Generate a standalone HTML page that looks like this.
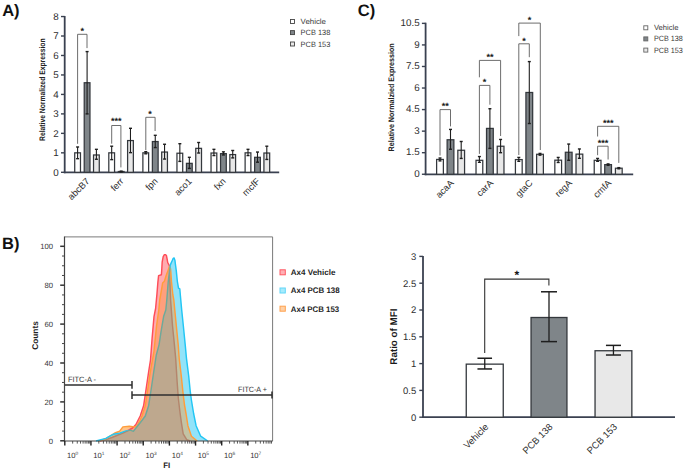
<!DOCTYPE html>
<html><head><meta charset="utf-8"><style>
html,body{margin:0;padding:0;background:#fff;}
body{width:685px;height:471px;overflow:hidden;}
svg{display:block;font-family:"Liberation Sans", sans-serif;text-rendering:geometricPrecision;}
</style></head><body>
<svg width="685" height="471" viewBox="0 0 685 471">
<rect width="685" height="471" fill="#fff"/>
<text x="2.20" y="16.00" font-size="16.5" font-weight="bold" text-anchor="start" fill="#111">A)</text>
<line x1="64.70" y1="16.00" x2="64.70" y2="173.20" stroke="#3a4150" stroke-width="1.8"/>
<line x1="63.80" y1="172.40" x2="279.20" y2="172.40" stroke="#3a4150" stroke-width="1.8"/>
<line x1="61.00" y1="172.30" x2="64.70" y2="172.30" stroke="#3a4150" stroke-width="1.4"/>
<text x="58.60" y="175.50" font-size="9.8" text-anchor="end" fill="#2e2e2e">0</text>
<line x1="61.00" y1="152.83" x2="64.70" y2="152.83" stroke="#3a4150" stroke-width="1.4"/>
<text x="58.60" y="156.03" font-size="9.8" text-anchor="end" fill="#2e2e2e">1</text>
<line x1="61.00" y1="133.36" x2="64.70" y2="133.36" stroke="#3a4150" stroke-width="1.4"/>
<text x="58.60" y="136.56" font-size="9.8" text-anchor="end" fill="#2e2e2e">2</text>
<line x1="61.00" y1="113.89" x2="64.70" y2="113.89" stroke="#3a4150" stroke-width="1.4"/>
<text x="58.60" y="117.09" font-size="9.8" text-anchor="end" fill="#2e2e2e">3</text>
<line x1="61.00" y1="94.42" x2="64.70" y2="94.42" stroke="#3a4150" stroke-width="1.4"/>
<text x="58.60" y="97.62" font-size="9.8" text-anchor="end" fill="#2e2e2e">4</text>
<line x1="61.00" y1="74.95" x2="64.70" y2="74.95" stroke="#3a4150" stroke-width="1.4"/>
<text x="58.60" y="78.15" font-size="9.8" text-anchor="end" fill="#2e2e2e">5</text>
<line x1="61.00" y1="55.48" x2="64.70" y2="55.48" stroke="#3a4150" stroke-width="1.4"/>
<text x="58.60" y="58.68" font-size="9.8" text-anchor="end" fill="#2e2e2e">6</text>
<line x1="61.00" y1="36.01" x2="64.70" y2="36.01" stroke="#3a4150" stroke-width="1.4"/>
<text x="58.60" y="39.21" font-size="9.8" text-anchor="end" fill="#2e2e2e">7</text>
<line x1="61.00" y1="16.54" x2="64.70" y2="16.54" stroke="#3a4150" stroke-width="1.4"/>
<text x="58.60" y="19.74" font-size="9.8" text-anchor="end" fill="#2e2e2e">8</text>
<text x="45.40" y="89.70" font-size="8.0" font-weight="bold" text-anchor="middle" fill="#222" transform="rotate(-90 45.40 89.70)" textLength="102.5" lengthAdjust="spacingAndGlyphs">Relative Normalized Expression</text>
<rect x="74.72" y="152.83" width="5.75" height="19.47" fill="#ffffff" stroke="#34383d" stroke-width="1.25"/>
<rect x="84.22" y="82.74" width="5.75" height="89.56" fill="#7f8589" stroke="#34383d" stroke-width="1.25"/>
<rect x="93.52" y="154.97" width="5.75" height="17.33" fill="#e8e8e8" stroke="#34383d" stroke-width="1.25"/>
<line x1="77.60" y1="158.67" x2="77.60" y2="146.99" stroke="#1e1e1e" stroke-width="1.1"/><line x1="76.10" y1="146.99" x2="79.10" y2="146.99" stroke="#1e1e1e" stroke-width="1.4"/><line x1="76.10" y1="158.67" x2="79.10" y2="158.67" stroke="#1e1e1e" stroke-width="1.4"/>
<line x1="87.10" y1="113.89" x2="87.10" y2="51.59" stroke="#1e1e1e" stroke-width="1.1"/><line x1="85.60" y1="51.59" x2="88.60" y2="51.59" stroke="#1e1e1e" stroke-width="1.4"/><line x1="85.60" y1="113.89" x2="88.60" y2="113.89" stroke="#1e1e1e" stroke-width="1.4"/>
<line x1="96.40" y1="159.26" x2="96.40" y2="149.33" stroke="#1e1e1e" stroke-width="1.1"/><line x1="94.90" y1="149.33" x2="97.90" y2="149.33" stroke="#1e1e1e" stroke-width="1.4"/><line x1="94.90" y1="159.26" x2="97.90" y2="159.26" stroke="#1e1e1e" stroke-width="1.4"/>
<text x="90.20" y="181.90" font-size="9.3" text-anchor="end" fill="#2e2e2e" transform="rotate(-45 90.20 181.90)">abcB7</text>
<rect x="108.80" y="152.83" width="5.75" height="19.47" fill="#ffffff" stroke="#34383d" stroke-width="1.25"/>
<rect x="118.30" y="171.52" width="5.75" height="0.78" fill="#7f8589" stroke="#34383d" stroke-width="1.25"/>
<rect x="127.60" y="140.56" width="5.75" height="31.74" fill="#e8e8e8" stroke="#34383d" stroke-width="1.25"/>
<line x1="111.68" y1="159.64" x2="111.68" y2="146.21" stroke="#1e1e1e" stroke-width="1.1"/><line x1="110.18" y1="146.21" x2="113.18" y2="146.21" stroke="#1e1e1e" stroke-width="1.4"/><line x1="110.18" y1="159.64" x2="113.18" y2="159.64" stroke="#1e1e1e" stroke-width="1.4"/>
<line x1="121.18" y1="171.91" x2="121.18" y2="171.13" stroke="#1e1e1e" stroke-width="1.1"/><line x1="119.68" y1="171.13" x2="122.68" y2="171.13" stroke="#1e1e1e" stroke-width="1.4"/><line x1="119.68" y1="171.91" x2="122.68" y2="171.91" stroke="#1e1e1e" stroke-width="1.4"/>
<line x1="130.48" y1="152.64" x2="130.48" y2="128.30" stroke="#1e1e1e" stroke-width="1.1"/><line x1="128.98" y1="128.30" x2="131.98" y2="128.30" stroke="#1e1e1e" stroke-width="1.4"/><line x1="128.98" y1="152.64" x2="131.98" y2="152.64" stroke="#1e1e1e" stroke-width="1.4"/>
<text x="124.28" y="181.90" font-size="9.3" text-anchor="end" fill="#2e2e2e" transform="rotate(-45 124.28 181.90)">ferr</text>
<rect x="142.88" y="152.83" width="5.75" height="19.47" fill="#ffffff" stroke="#34383d" stroke-width="1.25"/>
<rect x="152.38" y="141.54" width="5.75" height="30.76" fill="#7f8589" stroke="#34383d" stroke-width="1.25"/>
<rect x="161.69" y="152.05" width="5.75" height="20.25" fill="#e8e8e8" stroke="#34383d" stroke-width="1.25"/>
<line x1="145.76" y1="153.80" x2="145.76" y2="151.66" stroke="#1e1e1e" stroke-width="1.1"/><line x1="144.26" y1="151.66" x2="147.26" y2="151.66" stroke="#1e1e1e" stroke-width="1.4"/><line x1="144.26" y1="153.80" x2="147.26" y2="153.80" stroke="#1e1e1e" stroke-width="1.4"/>
<line x1="155.26" y1="147.57" x2="155.26" y2="135.31" stroke="#1e1e1e" stroke-width="1.1"/><line x1="153.76" y1="135.31" x2="156.76" y2="135.31" stroke="#1e1e1e" stroke-width="1.4"/><line x1="153.76" y1="147.57" x2="156.76" y2="147.57" stroke="#1e1e1e" stroke-width="1.4"/>
<line x1="164.56" y1="159.06" x2="164.56" y2="144.26" stroke="#1e1e1e" stroke-width="1.1"/><line x1="163.06" y1="144.26" x2="166.06" y2="144.26" stroke="#1e1e1e" stroke-width="1.4"/><line x1="163.06" y1="159.06" x2="166.06" y2="159.06" stroke="#1e1e1e" stroke-width="1.4"/>
<text x="158.36" y="181.90" font-size="9.3" text-anchor="end" fill="#2e2e2e" transform="rotate(-45 158.36 181.90)">fpn</text>
<rect x="176.96" y="153.22" width="5.75" height="19.08" fill="#ffffff" stroke="#34383d" stroke-width="1.25"/>
<rect x="186.46" y="163.34" width="5.75" height="8.96" fill="#7f8589" stroke="#34383d" stroke-width="1.25"/>
<rect x="195.76" y="148.35" width="5.75" height="23.95" fill="#e8e8e8" stroke="#34383d" stroke-width="1.25"/>
<line x1="179.84" y1="161.40" x2="179.84" y2="143.68" stroke="#1e1e1e" stroke-width="1.1"/><line x1="178.34" y1="143.68" x2="181.34" y2="143.68" stroke="#1e1e1e" stroke-width="1.4"/><line x1="178.34" y1="161.40" x2="181.34" y2="161.40" stroke="#1e1e1e" stroke-width="1.4"/>
<line x1="189.34" y1="168.41" x2="189.34" y2="157.31" stroke="#1e1e1e" stroke-width="1.1"/><line x1="187.84" y1="157.31" x2="190.84" y2="157.31" stroke="#1e1e1e" stroke-width="1.4"/><line x1="187.84" y1="168.41" x2="190.84" y2="168.41" stroke="#1e1e1e" stroke-width="1.4"/>
<line x1="198.64" y1="153.02" x2="198.64" y2="142.51" stroke="#1e1e1e" stroke-width="1.1"/><line x1="197.14" y1="142.51" x2="200.14" y2="142.51" stroke="#1e1e1e" stroke-width="1.4"/><line x1="197.14" y1="153.02" x2="200.14" y2="153.02" stroke="#1e1e1e" stroke-width="1.4"/>
<text x="192.44" y="181.90" font-size="9.3" text-anchor="end" fill="#2e2e2e" transform="rotate(-45 192.44 181.90)">aco1</text>
<rect x="211.04" y="153.02" width="5.75" height="19.28" fill="#ffffff" stroke="#34383d" stroke-width="1.25"/>
<rect x="220.54" y="153.61" width="5.75" height="18.69" fill="#7f8589" stroke="#34383d" stroke-width="1.25"/>
<rect x="229.84" y="154.58" width="5.75" height="17.72" fill="#e8e8e8" stroke="#34383d" stroke-width="1.25"/>
<line x1="213.92" y1="155.56" x2="213.92" y2="149.33" stroke="#1e1e1e" stroke-width="1.1"/><line x1="212.42" y1="149.33" x2="215.42" y2="149.33" stroke="#1e1e1e" stroke-width="1.4"/><line x1="212.42" y1="155.56" x2="215.42" y2="155.56" stroke="#1e1e1e" stroke-width="1.4"/>
<line x1="223.42" y1="154.97" x2="223.42" y2="151.86" stroke="#1e1e1e" stroke-width="1.1"/><line x1="221.92" y1="151.86" x2="224.92" y2="151.86" stroke="#1e1e1e" stroke-width="1.4"/><line x1="221.92" y1="154.97" x2="224.92" y2="154.97" stroke="#1e1e1e" stroke-width="1.4"/>
<line x1="232.72" y1="157.89" x2="232.72" y2="150.49" stroke="#1e1e1e" stroke-width="1.1"/><line x1="231.22" y1="150.49" x2="234.22" y2="150.49" stroke="#1e1e1e" stroke-width="1.4"/><line x1="231.22" y1="157.89" x2="234.22" y2="157.89" stroke="#1e1e1e" stroke-width="1.4"/>
<text x="226.52" y="181.90" font-size="9.3" text-anchor="end" fill="#2e2e2e" transform="rotate(-45 226.52 181.90)">fxn</text>
<rect x="245.12" y="152.83" width="5.75" height="19.47" fill="#ffffff" stroke="#34383d" stroke-width="1.25"/>
<rect x="254.62" y="157.31" width="5.75" height="14.99" fill="#7f8589" stroke="#34383d" stroke-width="1.25"/>
<rect x="263.92" y="153.02" width="5.75" height="19.28" fill="#e8e8e8" stroke="#34383d" stroke-width="1.25"/>
<line x1="248.00" y1="155.56" x2="248.00" y2="149.33" stroke="#1e1e1e" stroke-width="1.1"/><line x1="246.50" y1="149.33" x2="249.50" y2="149.33" stroke="#1e1e1e" stroke-width="1.4"/><line x1="246.50" y1="155.56" x2="249.50" y2="155.56" stroke="#1e1e1e" stroke-width="1.4"/>
<line x1="257.50" y1="162.18" x2="257.50" y2="152.05" stroke="#1e1e1e" stroke-width="1.1"/><line x1="256.00" y1="152.05" x2="259.00" y2="152.05" stroke="#1e1e1e" stroke-width="1.4"/><line x1="256.00" y1="162.18" x2="259.00" y2="162.18" stroke="#1e1e1e" stroke-width="1.4"/>
<line x1="266.80" y1="159.45" x2="266.80" y2="146.21" stroke="#1e1e1e" stroke-width="1.1"/><line x1="265.30" y1="146.21" x2="268.30" y2="146.21" stroke="#1e1e1e" stroke-width="1.4"/><line x1="265.30" y1="159.45" x2="268.30" y2="159.45" stroke="#1e1e1e" stroke-width="1.4"/>
<text x="260.60" y="181.90" font-size="9.3" text-anchor="end" fill="#2e2e2e" transform="rotate(-45 260.60 181.90)">mcfF</text>
<polyline points="77.60,143.80 77.60,34.30 87.00,34.30 87.00,48.10" fill="none" stroke="#5c5c5c" stroke-width="0.9"/>
<text x="82.20" y="34.30" font-size="9.1" font-weight="bold" text-anchor="middle" fill="#1a1a1a">*</text>
<polyline points="111.70,143.70 111.70,125.50 120.90,125.50 120.90,167.40" fill="none" stroke="#5c5c5c" stroke-width="0.9"/>
<text x="116.30" y="124.41" font-size="9.1" font-weight="bold" text-anchor="middle" fill="#1a1a1a">***</text>
<polyline points="145.80,150.00 145.80,117.30 155.10,117.30 155.10,131.00" fill="none" stroke="#5c5c5c" stroke-width="0.9"/>
<text x="150.10" y="116.91" font-size="9.1" font-weight="bold" text-anchor="middle" fill="#1a1a1a">*</text>
<rect x="290.50" y="19.50" width="4.00" height="4.00" fill="#ffffff" stroke="#444" stroke-width="0.9"/><text x="300.60" y="24.00" font-size="7.6" text-anchor="start" fill="#383838" textLength="25.4" lengthAdjust="spacingAndGlyphs">Vehicle</text><rect x="290.50" y="30.60" width="4.00" height="4.00" fill="#7f8589" stroke="#444" stroke-width="0.9"/><text x="300.60" y="35.10" font-size="7.6" text-anchor="start" fill="#383838" textLength="29.8" lengthAdjust="spacingAndGlyphs">PCB 138</text><rect x="290.50" y="42.00" width="4.00" height="4.00" fill="#e8e8e8" stroke="#444" stroke-width="0.9"/><text x="300.60" y="46.50" font-size="7.6" text-anchor="start" fill="#383838" textLength="29.8" lengthAdjust="spacingAndGlyphs">PCB 153</text>
<text x="357.80" y="15.60" font-size="16.5" font-weight="bold" text-anchor="start" fill="#111">C)</text>
<line x1="425.60" y1="22.70" x2="425.60" y2="175.20" stroke="#3a4150" stroke-width="1.8"/>
<line x1="424.70" y1="174.40" x2="633.20" y2="174.40" stroke="#3a4150" stroke-width="1.8"/>
<line x1="421.90" y1="174.25" x2="425.60" y2="174.25" stroke="#3a4150" stroke-width="1.4"/>
<text x="419.60" y="176.95" font-size="9.8" text-anchor="end" fill="#2e2e2e">0</text>
<line x1="421.90" y1="152.69" x2="425.60" y2="152.69" stroke="#3a4150" stroke-width="1.4"/>
<text x="419.60" y="155.39" font-size="9.8" text-anchor="end" fill="#2e2e2e">1.5</text>
<line x1="421.90" y1="131.14" x2="425.60" y2="131.14" stroke="#3a4150" stroke-width="1.4"/>
<text x="419.60" y="133.84" font-size="9.8" text-anchor="end" fill="#2e2e2e">3</text>
<line x1="421.90" y1="109.59" x2="425.60" y2="109.59" stroke="#3a4150" stroke-width="1.4"/>
<text x="419.60" y="112.29" font-size="9.8" text-anchor="end" fill="#2e2e2e">4.5</text>
<line x1="421.90" y1="88.03" x2="425.60" y2="88.03" stroke="#3a4150" stroke-width="1.4"/>
<text x="419.60" y="90.73" font-size="9.8" text-anchor="end" fill="#2e2e2e">6</text>
<line x1="421.90" y1="66.48" x2="425.60" y2="66.48" stroke="#3a4150" stroke-width="1.4"/>
<text x="419.60" y="69.18" font-size="9.8" text-anchor="end" fill="#2e2e2e">7.5</text>
<line x1="421.90" y1="44.92" x2="425.60" y2="44.92" stroke="#3a4150" stroke-width="1.4"/>
<text x="419.60" y="47.62" font-size="9.8" text-anchor="end" fill="#2e2e2e">9</text>
<line x1="421.90" y1="23.37" x2="425.60" y2="23.37" stroke="#3a4150" stroke-width="1.4"/>
<text x="419.60" y="26.07" font-size="9.8" text-anchor="end" fill="#2e2e2e">10.5</text>
<text x="393.90" y="97.40" font-size="8.0" font-weight="bold" text-anchor="middle" fill="#222" transform="rotate(-90 393.90 97.40)" textLength="108" lengthAdjust="spacingAndGlyphs">Relative Normalzied Expression</text>
<rect x="436.62" y="159.45" width="6.75" height="14.80" fill="#ffffff" stroke="#34383d" stroke-width="1.25"/>
<rect x="447.12" y="139.76" width="6.75" height="34.49" fill="#7f8589" stroke="#34383d" stroke-width="1.25"/>
<rect x="457.82" y="150.25" width="6.75" height="24.00" fill="#e8e8e8" stroke="#34383d" stroke-width="1.25"/>
<line x1="440.00" y1="160.89" x2="440.00" y2="158.01" stroke="#1e1e1e" stroke-width="1.1"/><line x1="438.50" y1="158.01" x2="441.50" y2="158.01" stroke="#1e1e1e" stroke-width="1.4"/><line x1="438.50" y1="160.89" x2="441.50" y2="160.89" stroke="#1e1e1e" stroke-width="1.4"/>
<line x1="450.50" y1="149.25" x2="450.50" y2="129.42" stroke="#1e1e1e" stroke-width="1.1"/><line x1="449.00" y1="129.42" x2="452.00" y2="129.42" stroke="#1e1e1e" stroke-width="1.4"/><line x1="449.00" y1="149.25" x2="452.00" y2="149.25" stroke="#1e1e1e" stroke-width="1.4"/>
<line x1="461.20" y1="158.44" x2="461.20" y2="141.49" stroke="#1e1e1e" stroke-width="1.1"/><line x1="459.70" y1="141.49" x2="462.70" y2="141.49" stroke="#1e1e1e" stroke-width="1.4"/><line x1="459.70" y1="158.44" x2="462.70" y2="158.44" stroke="#1e1e1e" stroke-width="1.4"/>
<text x="454.40" y="183.60" font-size="9.3" text-anchor="end" fill="#2e2e2e" transform="rotate(-45 454.40 183.60)">acaA</text>
<rect x="476.02" y="160.31" width="6.75" height="13.94" fill="#ffffff" stroke="#34383d" stroke-width="1.25"/>
<rect x="486.52" y="128.41" width="6.75" height="45.84" fill="#7f8589" stroke="#34383d" stroke-width="1.25"/>
<rect x="497.22" y="146.23" width="6.75" height="28.02" fill="#e8e8e8" stroke="#34383d" stroke-width="1.25"/>
<line x1="479.40" y1="162.32" x2="479.40" y2="156.57" stroke="#1e1e1e" stroke-width="1.1"/><line x1="477.90" y1="156.57" x2="480.90" y2="156.57" stroke="#1e1e1e" stroke-width="1.4"/><line x1="477.90" y1="162.32" x2="480.90" y2="162.32" stroke="#1e1e1e" stroke-width="1.4"/>
<line x1="489.90" y1="148.38" x2="489.90" y2="108.72" stroke="#1e1e1e" stroke-width="1.1"/><line x1="488.40" y1="108.72" x2="491.40" y2="108.72" stroke="#1e1e1e" stroke-width="1.4"/><line x1="488.40" y1="148.38" x2="491.40" y2="148.38" stroke="#1e1e1e" stroke-width="1.4"/>
<line x1="500.60" y1="152.69" x2="500.60" y2="139.47" stroke="#1e1e1e" stroke-width="1.1"/><line x1="499.10" y1="139.47" x2="502.10" y2="139.47" stroke="#1e1e1e" stroke-width="1.4"/><line x1="499.10" y1="152.69" x2="502.10" y2="152.69" stroke="#1e1e1e" stroke-width="1.4"/>
<text x="493.80" y="183.60" font-size="9.3" text-anchor="end" fill="#2e2e2e" transform="rotate(-45 493.80 183.60)">carA</text>
<rect x="515.42" y="159.59" width="6.75" height="14.66" fill="#ffffff" stroke="#34383d" stroke-width="1.25"/>
<rect x="525.92" y="92.48" width="6.75" height="81.77" fill="#7f8589" stroke="#34383d" stroke-width="1.25"/>
<rect x="536.62" y="154.28" width="6.75" height="19.97" fill="#e8e8e8" stroke="#34383d" stroke-width="1.25"/>
<line x1="518.80" y1="161.32" x2="518.80" y2="157.44" stroke="#1e1e1e" stroke-width="1.1"/><line x1="517.30" y1="157.44" x2="520.30" y2="157.44" stroke="#1e1e1e" stroke-width="1.4"/><line x1="517.30" y1="161.32" x2="520.30" y2="161.32" stroke="#1e1e1e" stroke-width="1.4"/>
<line x1="529.30" y1="123.52" x2="529.30" y2="61.59" stroke="#1e1e1e" stroke-width="1.1"/><line x1="527.80" y1="61.59" x2="530.80" y2="61.59" stroke="#1e1e1e" stroke-width="1.4"/><line x1="527.80" y1="123.52" x2="530.80" y2="123.52" stroke="#1e1e1e" stroke-width="1.4"/>
<line x1="540.00" y1="155.14" x2="540.00" y2="153.41" stroke="#1e1e1e" stroke-width="1.1"/><line x1="538.50" y1="153.41" x2="541.50" y2="153.41" stroke="#1e1e1e" stroke-width="1.4"/><line x1="538.50" y1="155.14" x2="541.50" y2="155.14" stroke="#1e1e1e" stroke-width="1.4"/>
<text x="533.20" y="183.60" font-size="9.3" text-anchor="end" fill="#2e2e2e" transform="rotate(-45 533.20 183.60)">gtaC</text>
<rect x="554.83" y="160.17" width="6.75" height="14.08" fill="#ffffff" stroke="#34383d" stroke-width="1.25"/>
<rect x="565.33" y="152.26" width="6.75" height="21.99" fill="#7f8589" stroke="#34383d" stroke-width="1.25"/>
<rect x="576.03" y="154.13" width="6.75" height="20.12" fill="#e8e8e8" stroke="#34383d" stroke-width="1.25"/>
<line x1="558.20" y1="162.47" x2="558.20" y2="157.44" stroke="#1e1e1e" stroke-width="1.1"/><line x1="556.70" y1="157.44" x2="559.70" y2="157.44" stroke="#1e1e1e" stroke-width="1.4"/><line x1="556.70" y1="162.47" x2="559.70" y2="162.47" stroke="#1e1e1e" stroke-width="1.4"/>
<line x1="568.70" y1="160.31" x2="568.70" y2="144.07" stroke="#1e1e1e" stroke-width="1.1"/><line x1="567.20" y1="144.07" x2="570.20" y2="144.07" stroke="#1e1e1e" stroke-width="1.4"/><line x1="567.20" y1="160.31" x2="570.20" y2="160.31" stroke="#1e1e1e" stroke-width="1.4"/>
<line x1="579.40" y1="158.30" x2="579.40" y2="148.96" stroke="#1e1e1e" stroke-width="1.1"/><line x1="577.90" y1="148.96" x2="580.90" y2="148.96" stroke="#1e1e1e" stroke-width="1.4"/><line x1="577.90" y1="158.30" x2="580.90" y2="158.30" stroke="#1e1e1e" stroke-width="1.4"/>
<text x="572.60" y="183.60" font-size="9.3" text-anchor="end" fill="#2e2e2e" transform="rotate(-45 572.60 183.60)">regA</text>
<rect x="594.23" y="160.31" width="6.75" height="13.94" fill="#ffffff" stroke="#34383d" stroke-width="1.25"/>
<rect x="604.73" y="164.62" width="6.75" height="9.63" fill="#7f8589" stroke="#34383d" stroke-width="1.25"/>
<rect x="615.43" y="168.21" width="6.75" height="6.04" fill="#e8e8e8" stroke="#34383d" stroke-width="1.25"/>
<line x1="597.60" y1="161.32" x2="597.60" y2="158.44" stroke="#1e1e1e" stroke-width="1.1"/><line x1="596.10" y1="158.44" x2="599.10" y2="158.44" stroke="#1e1e1e" stroke-width="1.4"/><line x1="596.10" y1="161.32" x2="599.10" y2="161.32" stroke="#1e1e1e" stroke-width="1.4"/>
<line x1="608.10" y1="165.34" x2="608.10" y2="163.90" stroke="#1e1e1e" stroke-width="1.1"/><line x1="606.60" y1="163.90" x2="609.60" y2="163.90" stroke="#1e1e1e" stroke-width="1.4"/><line x1="606.60" y1="165.34" x2="609.60" y2="165.34" stroke="#1e1e1e" stroke-width="1.4"/>
<line x1="618.80" y1="168.79" x2="618.80" y2="167.64" stroke="#1e1e1e" stroke-width="1.1"/><line x1="617.30" y1="167.64" x2="620.30" y2="167.64" stroke="#1e1e1e" stroke-width="1.4"/><line x1="617.30" y1="168.79" x2="620.30" y2="168.79" stroke="#1e1e1e" stroke-width="1.4"/>
<text x="612.00" y="183.60" font-size="9.3" text-anchor="end" fill="#2e2e2e" transform="rotate(-45 612.00 183.60)">cmfA</text>
<polyline points="440.00,155.50 440.00,109.60 450.50,109.60 450.50,126.40" fill="none" stroke="#5c5c5c" stroke-width="0.9"/>
<text x="445.30" y="109.11" font-size="9.1" font-weight="bold" text-anchor="middle" fill="#1a1a1a">**</text>
<polyline points="479.40,153.90 479.40,85.40 489.90,85.40 489.90,104.70" fill="none" stroke="#5c5c5c" stroke-width="0.9"/>
<text x="484.60" y="84.91" font-size="9.1" font-weight="bold" text-anchor="middle" fill="#1a1a1a">*</text>
<polyline points="479.40,77.30 479.40,60.40 500.60,60.40 500.60,136.00" fill="none" stroke="#5c5c5c" stroke-width="0.9"/>
<text x="490.00" y="60.01" font-size="9.1" font-weight="bold" text-anchor="middle" fill="#1a1a1a">**</text>
<polyline points="518.80,155.00 518.80,43.80 529.30,43.80 529.30,57.20" fill="none" stroke="#5c5c5c" stroke-width="0.9"/>
<text x="524.00" y="43.70" font-size="9.1" font-weight="bold" text-anchor="middle" fill="#1a1a1a">*</text>
<polyline points="518.80,36.10 518.80,23.10 540.30,23.10 540.30,150.00" fill="none" stroke="#5c5c5c" stroke-width="0.9"/>
<text x="529.40" y="23.10" font-size="9.1" font-weight="bold" text-anchor="middle" fill="#1a1a1a">*</text>
<polyline points="597.60,155.20 597.60,146.20 608.10,146.20 608.10,159.50" fill="none" stroke="#5c5c5c" stroke-width="0.9"/>
<text x="603.00" y="146.00" font-size="9.1" font-weight="bold" text-anchor="middle" fill="#1a1a1a">***</text>
<polyline points="597.60,136.50 597.60,126.30 618.80,126.30 618.80,162.90" fill="none" stroke="#5c5c5c" stroke-width="0.9"/>
<text x="608.20" y="126.20" font-size="9.1" font-weight="bold" text-anchor="middle" fill="#1a1a1a">***</text>
<rect x="643.80" y="25.80" width="4.00" height="4.00" fill="#ffffff" stroke="#666" stroke-width="0.9"/><text x="653.90" y="30.30" font-size="7.6" text-anchor="start" fill="#383838" textLength="24.6" lengthAdjust="spacingAndGlyphs">Vehicle</text><rect x="643.80" y="36.90" width="4.00" height="4.00" fill="#7f8589" stroke="#666" stroke-width="0.9"/><text x="653.90" y="41.40" font-size="7.6" text-anchor="start" fill="#383838" textLength="28.9" lengthAdjust="spacingAndGlyphs">PCB 138</text><rect x="643.80" y="48.10" width="4.00" height="4.00" fill="#e8e8e8" stroke="#666" stroke-width="0.9"/><text x="653.90" y="52.60" font-size="7.6" text-anchor="start" fill="#383838" textLength="28.9" lengthAdjust="spacingAndGlyphs">PCB 153</text>
<line x1="423.00" y1="256.00" x2="423.00" y2="418.00" stroke="#3a4150" stroke-width="1.8"/>
<line x1="422.20" y1="417.20" x2="675.00" y2="417.20" stroke="#3a4150" stroke-width="1.8"/>
<line x1="419.30" y1="417.20" x2="423.00" y2="417.20" stroke="#3a4150" stroke-width="1.4"/>
<text x="416.30" y="420.60" font-size="9.5" text-anchor="end" fill="#2e2e2e">0</text>
<line x1="419.30" y1="390.40" x2="423.00" y2="390.40" stroke="#3a4150" stroke-width="1.4"/>
<text x="416.30" y="393.80" font-size="9.5" text-anchor="end" fill="#2e2e2e">0.5</text>
<line x1="419.30" y1="363.60" x2="423.00" y2="363.60" stroke="#3a4150" stroke-width="1.4"/>
<text x="416.30" y="367.00" font-size="9.5" text-anchor="end" fill="#2e2e2e">1</text>
<line x1="419.30" y1="336.80" x2="423.00" y2="336.80" stroke="#3a4150" stroke-width="1.4"/>
<text x="416.30" y="340.20" font-size="9.5" text-anchor="end" fill="#2e2e2e">1.5</text>
<line x1="419.30" y1="310.00" x2="423.00" y2="310.00" stroke="#3a4150" stroke-width="1.4"/>
<text x="416.30" y="313.40" font-size="9.5" text-anchor="end" fill="#2e2e2e">2</text>
<line x1="419.30" y1="283.20" x2="423.00" y2="283.20" stroke="#3a4150" stroke-width="1.4"/>
<text x="416.30" y="286.60" font-size="9.5" text-anchor="end" fill="#2e2e2e">2.5</text>
<line x1="419.30" y1="256.40" x2="423.00" y2="256.40" stroke="#3a4150" stroke-width="1.4"/>
<text x="416.30" y="259.80" font-size="9.5" text-anchor="end" fill="#2e2e2e">3</text>
<text x="396.60" y="336.60" font-size="9.8" font-weight="bold" text-anchor="middle" fill="#1a1a1a" transform="rotate(-90 396.60 336.60)">Ratio of MFI</text>
<rect x="466.25" y="364.14" width="37.00" height="53.06" fill="#ffffff" stroke="#34383d" stroke-width="1.3"/>
<rect x="531.05" y="317.50" width="35.90" height="99.70" fill="#7f8589" stroke="#34383d" stroke-width="1.3"/>
<rect x="595.05" y="350.74" width="36.80" height="66.46" fill="#e8e8e8" stroke="#34383d" stroke-width="1.3"/>
<line x1="484.75" y1="368.96" x2="484.75" y2="358.24" stroke="#1e1e1e" stroke-width="1.3"/><line x1="477.45" y1="358.24" x2="492.05" y2="358.24" stroke="#1e1e1e" stroke-width="1.5"/><line x1="477.45" y1="368.96" x2="492.05" y2="368.96" stroke="#1e1e1e" stroke-width="1.5"/>
<text x="489.05" y="427.60" font-size="9.5" text-anchor="end" fill="#2e2e2e" transform="rotate(-45 489.05 427.60)">Vehicle</text>
<line x1="549.00" y1="341.62" x2="549.00" y2="291.78" stroke="#1e1e1e" stroke-width="1.3"/><line x1="541.00" y1="291.78" x2="557.00" y2="291.78" stroke="#1e1e1e" stroke-width="1.5"/><line x1="541.00" y1="341.62" x2="557.00" y2="341.62" stroke="#1e1e1e" stroke-width="1.5"/>
<text x="553.30" y="427.60" font-size="9.5" text-anchor="end" fill="#2e2e2e" transform="rotate(-45 553.30 427.60)">PCB 138</text>
<line x1="613.45" y1="355.02" x2="613.45" y2="345.38" stroke="#1e1e1e" stroke-width="1.3"/><line x1="605.95" y1="345.38" x2="620.95" y2="345.38" stroke="#1e1e1e" stroke-width="1.5"/><line x1="605.95" y1="355.02" x2="620.95" y2="355.02" stroke="#1e1e1e" stroke-width="1.5"/>
<text x="617.75" y="427.60" font-size="9.5" text-anchor="end" fill="#2e2e2e" transform="rotate(-45 617.75 427.60)">PCB 153</text>
<polyline points="484.70,353.10 484.70,279.10 548.90,279.10 548.90,285.50" fill="none" stroke="#333" stroke-width="1.1"/>
<text x="516.80" y="279.40" font-size="12" font-weight="bold" text-anchor="middle" fill="#1a1a1a">*</text>
<text x="2.00" y="248.80" font-size="16.5" font-weight="bold" text-anchor="start" fill="#111">B)</text>
<defs>
<clipPath id="cR"><path d="M100.0,441.0 L106.0,439.6 L112.0,437.5 L118.0,435.0 L124.0,432.5 L129.0,430.0 L132.5,428.0 L135.9,424.5 L140.2,416.0 L143.6,405.8 L146.1,389.0 L148.6,372.0 L150.5,360.0 L152.1,338.2 L154.0,316.6 L155.6,308.5 L156.9,294.5 L157.9,282.0 L158.6,275.6 L161.4,274.7 L161.8,268.7 L162.2,261.8 L163.2,256.6 L164.4,254.6 L165.6,254.6 L166.5,255.8 L167.2,259.5 L167.7,262.5 L168.7,264.4 L169.5,265.8 L169.9,282.0 L170.6,300.0 L172.5,325.5 L174.4,344.6 L175.7,358.6 L177.1,381.2 L178.3,398.0 L179.8,411.0 L181.5,423.4 L183.2,433.9 L186.7,439.7 L190.2,441.0 Z"/></clipPath>
<clipPath id="cO"><path d="M98.0,441.0 L100.0,440.6 L105.9,438.6 L111.2,435.4 L115.5,432.7 L119.7,431.1 L122.9,426.9 L129.3,426.3 L134.6,426.9 L136.8,426.2 L139.9,420.5 L141.9,416.0 L145.3,405.8 L147.8,389.0 L150.3,372.0 L152.7,358.6 L154.0,351.0 L156.6,325.5 L158.8,310.0 L159.7,300.0 L160.7,294.5 L162.0,286.9 L162.6,283.0 L163.9,281.8 L164.5,281.0 L166.0,276.0 L169.6,266.3 L170.6,269.0 L171.5,281.8 L172.8,294.5 L173.8,300.0 L176.3,325.5 L178.2,344.6 L179.2,358.6 L181.3,376.0 L182.9,391.8 L184.5,405.0 L186.1,414.0 L187.9,425.7 L191.4,436.2 L197.2,441.0 Z"/></clipPath>
<clipPath id="cC"><path d="M96.0,441.0 L98.0,440.5 L105.9,438.4 L111.2,435.4 L113.4,434.3 L119.7,433.2 L125.1,431.1 L130.4,430.1 L133.4,431.3 L140.2,422.8 L145.3,416.0 L148.6,405.8 L151.2,389.0 L153.7,372.0 L156.3,355.0 L159.1,344.6 L161.0,331.8 L163.6,316.6 L165.8,310.0 L166.8,300.0 L168.2,282.0 L170.2,265.2 L171.3,262.6 L172.4,260.2 L173.2,258.4 L174.1,257.9 L174.9,260.2 L175.6,265.6 L176.3,270.9 L177.3,281.0 L178.5,288.1 L179.8,288.8 L180.4,295.8 L181.7,310.0 L183.3,325.5 L185.2,344.6 L186.5,358.6 L188.7,376.0 L190.3,391.8 L191.4,400.0 L193.7,414.0 L196.1,425.7 L200.7,436.2 L207.7,441.0 Z"/></clipPath>
<mask id="mNotC" maskUnits="userSpaceOnUse" x="0" y="200" width="300" height="271"><rect x="0" y="200" width="300" height="271" fill="#fff"/><path d="M96.0,441.0 L98.0,440.5 L105.9,438.4 L111.2,435.4 L113.4,434.3 L119.7,433.2 L125.1,431.1 L130.4,430.1 L133.4,431.3 L140.2,422.8 L145.3,416.0 L148.6,405.8 L151.2,389.0 L153.7,372.0 L156.3,355.0 L159.1,344.6 L161.0,331.8 L163.6,316.6 L165.8,310.0 L166.8,300.0 L168.2,282.0 L170.2,265.2 L171.3,262.6 L172.4,260.2 L173.2,258.4 L174.1,257.9 L174.9,260.2 L175.6,265.6 L176.3,270.9 L177.3,281.0 L178.5,288.1 L179.8,288.8 L180.4,295.8 L181.7,310.0 L183.3,325.5 L185.2,344.6 L186.5,358.6 L188.7,376.0 L190.3,391.8 L191.4,400.0 L193.7,414.0 L196.1,425.7 L200.7,436.2 L207.7,441.0 Z" fill="#000"/></mask>
<mask id="mNotR" maskUnits="userSpaceOnUse" x="0" y="200" width="300" height="271"><rect x="0" y="200" width="300" height="271" fill="#fff"/><path d="M100.0,441.0 L106.0,439.6 L112.0,437.5 L118.0,435.0 L124.0,432.5 L129.0,430.0 L132.5,428.0 L135.9,424.5 L140.2,416.0 L143.6,405.8 L146.1,389.0 L148.6,372.0 L150.5,360.0 L152.1,338.2 L154.0,316.6 L155.6,308.5 L156.9,294.5 L157.9,282.0 L158.6,275.6 L161.4,274.7 L161.8,268.7 L162.2,261.8 L163.2,256.6 L164.4,254.6 L165.6,254.6 L166.5,255.8 L167.2,259.5 L167.7,262.5 L168.7,264.4 L169.5,265.8 L169.9,282.0 L170.6,300.0 L172.5,325.5 L174.4,344.6 L175.7,358.6 L177.1,381.2 L178.3,398.0 L179.8,411.0 L181.5,423.4 L183.2,433.9 L186.7,439.7 L190.2,441.0 Z" fill="#000"/></mask>
</defs>
<path d="M100.0,441.0 L106.0,439.6 L112.0,437.5 L118.0,435.0 L124.0,432.5 L129.0,430.0 L132.5,428.0 L135.9,424.5 L140.2,416.0 L143.6,405.8 L146.1,389.0 L148.6,372.0 L150.5,360.0 L152.1,338.2 L154.0,316.6 L155.6,308.5 L156.9,294.5 L157.9,282.0 L158.6,275.6 L161.4,274.7 L161.8,268.7 L162.2,261.8 L163.2,256.6 L164.4,254.6 L165.6,254.6 L166.5,255.8 L167.2,259.5 L167.7,262.5 L168.7,264.4 L169.5,265.8 L169.9,282.0 L170.6,300.0 L172.5,325.5 L174.4,344.6 L175.7,358.6 L177.1,381.2 L178.3,398.0 L179.8,411.0 L181.5,423.4 L183.2,433.9 L186.7,439.7 L190.2,441.0 Z" fill="#ffabb0"/>
<path d="M96.0,441.0 L98.0,440.5 L105.9,438.4 L111.2,435.4 L113.4,434.3 L119.7,433.2 L125.1,431.1 L130.4,430.1 L133.4,431.3 L140.2,422.8 L145.3,416.0 L148.6,405.8 L151.2,389.0 L153.7,372.0 L156.3,355.0 L159.1,344.6 L161.0,331.8 L163.6,316.6 L165.8,310.0 L166.8,300.0 L168.2,282.0 L170.2,265.2 L171.3,262.6 L172.4,260.2 L173.2,258.4 L174.1,257.9 L174.9,260.2 L175.6,265.6 L176.3,270.9 L177.3,281.0 L178.5,288.1 L179.8,288.8 L180.4,295.8 L181.7,310.0 L183.3,325.5 L185.2,344.6 L186.5,358.6 L188.7,376.0 L190.3,391.8 L191.4,400.0 L193.7,414.0 L196.1,425.7 L200.7,436.2 L207.7,441.0 Z" fill="#92e3f9"/>
<path d="M98.0,441.0 L100.0,440.6 L105.9,438.6 L111.2,435.4 L115.5,432.7 L119.7,431.1 L122.9,426.9 L129.3,426.3 L134.6,426.9 L136.8,426.2 L139.9,420.5 L141.9,416.0 L145.3,405.8 L147.8,389.0 L150.3,372.0 L152.7,358.6 L154.0,351.0 L156.6,325.5 L158.8,310.0 L159.7,300.0 L160.7,294.5 L162.0,286.9 L162.6,283.0 L163.9,281.8 L164.5,281.0 L166.0,276.0 L169.6,266.3 L170.6,269.0 L171.5,281.8 L172.8,294.5 L173.8,300.0 L176.3,325.5 L178.2,344.6 L179.2,358.6 L181.3,376.0 L182.9,391.8 L184.5,405.0 L186.1,414.0 L187.9,425.7 L191.4,436.2 L197.2,441.0 Z" fill="#ffc489"/>
<path d="M98.0,441.0 L100.0,440.6 L105.9,438.6 L111.2,435.4 L115.5,432.7 L119.7,431.1 L122.9,426.9 L129.3,426.3 L134.6,426.9 L136.8,426.2 L139.9,420.5 L141.9,416.0 L145.3,405.8 L147.8,389.0 L150.3,372.0 L152.7,358.6 L154.0,351.0 L156.6,325.5 L158.8,310.0 L159.7,300.0 L160.7,294.5 L162.0,286.9 L162.6,283.0 L163.9,281.8 L164.5,281.0 L166.0,276.0 L169.6,266.3 L170.6,269.0 L171.5,281.8 L172.8,294.5 L173.8,300.0 L176.3,325.5 L178.2,344.6 L179.2,358.6 L181.3,376.0 L182.9,391.8 L184.5,405.0 L186.1,414.0 L187.9,425.7 L191.4,436.2 L197.2,441.0 Z" fill="#ff9f7c" clip-path="url(#cR)"/>
<path d="M98.0,441.0 L100.0,440.6 L105.9,438.6 L111.2,435.4 L115.5,432.7 L119.7,431.1 L122.9,426.9 L129.3,426.3 L134.6,426.9 L136.8,426.2 L139.9,420.5 L141.9,416.0 L145.3,405.8 L147.8,389.0 L150.3,372.0 L152.7,358.6 L154.0,351.0 L156.6,325.5 L158.8,310.0 L159.7,300.0 L160.7,294.5 L162.0,286.9 L162.6,283.0 L163.9,281.8 L164.5,281.0 L166.0,276.0 L169.6,266.3 L170.6,269.0 L171.5,281.8 L172.8,294.5 L173.8,300.0 L176.3,325.5 L178.2,344.6 L179.2,358.6 L181.3,376.0 L182.9,391.8 L184.5,405.0 L186.1,414.0 L187.9,425.7 L191.4,436.2 L197.2,441.0 Z" fill="#c3c3a4" clip-path="url(#cC)"/>
<path d="M100.0,441.0 L106.0,439.6 L112.0,437.5 L118.0,435.0 L124.0,432.5 L129.0,430.0 L132.5,428.0 L135.9,424.5 L140.2,416.0 L143.6,405.8 L146.1,389.0 L148.6,372.0 L150.5,360.0 L152.1,338.2 L154.0,316.6 L155.6,308.5 L156.9,294.5 L157.9,282.0 L158.6,275.6 L161.4,274.7 L161.8,268.7 L162.2,261.8 L163.2,256.6 L164.4,254.6 L165.6,254.6 L166.5,255.8 L167.2,259.5 L167.7,262.5 L168.7,264.4 L169.5,265.8 L169.9,282.0 L170.6,300.0 L172.5,325.5 L174.4,344.6 L175.7,358.6 L177.1,381.2 L178.3,398.0 L179.8,411.0 L181.5,423.4 L183.2,433.9 L186.7,439.7 L190.2,441.0 Z" fill="#bea88e" clip-path="url(#cC)"/>
<path d="M100.0,441.0 L106.0,439.6 L112.0,437.5 L118.0,435.0 L124.0,432.5 L129.0,430.0 L132.5,428.0 L135.9,424.5 L140.2,416.0 L143.6,405.8 L146.1,389.0 L148.6,372.0 L150.5,360.0 L152.1,338.2 L154.0,316.6 L155.6,308.5 L156.9,294.5 L157.9,282.0 L158.6,275.6 L161.4,274.7 L161.8,268.7 L162.2,261.8 L163.2,256.6 L164.4,254.6 L165.6,254.6 L166.5,255.8 L167.2,259.5 L167.7,262.5 L168.7,264.4 L169.5,265.8 L169.9,282.0 L170.6,300.0 L172.5,325.5 L174.4,344.6 L175.7,358.6 L177.1,381.2 L178.3,398.0 L179.8,411.0 L181.5,423.4 L183.2,433.9 L186.7,439.7 L190.2,441.0" fill="none" stroke="#ff4d58" stroke-width="1.45" stroke-linejoin="round" mask="url(#mNotC)"/>
<path d="M100.0,441.0 L106.0,439.6 L112.0,437.5 L118.0,435.0 L124.0,432.5 L129.0,430.0 L132.5,428.0 L135.9,424.5 L140.2,416.0 L143.6,405.8 L146.1,389.0 L148.6,372.0 L150.5,360.0 L152.1,338.2 L154.0,316.6 L155.6,308.5 L156.9,294.5 L157.9,282.0 L158.6,275.6 L161.4,274.7 L161.8,268.7 L162.2,261.8 L163.2,256.6 L164.4,254.6 L165.6,254.6 L166.5,255.8 L167.2,259.5 L167.7,262.5 L168.7,264.4 L169.5,265.8 L169.9,282.0 L170.6,300.0 L172.5,325.5 L174.4,344.6 L175.7,358.6 L177.1,381.2 L178.3,398.0 L179.8,411.0 L181.5,423.4 L183.2,433.9 L186.7,439.7 L190.2,441.0" fill="none" stroke="#b4856c" stroke-width="1.45" stroke-linejoin="round" clip-path="url(#cC)"/>
<path d="M98.0,441.0 L100.0,440.6 L105.9,438.6 L111.2,435.4 L115.5,432.7 L119.7,431.1 L122.9,426.9 L129.3,426.3 L134.6,426.9 L136.8,426.2 L139.9,420.5 L141.9,416.0 L145.3,405.8 L147.8,389.0 L150.3,372.0 L152.7,358.6 L154.0,351.0 L156.6,325.5 L158.8,310.0 L159.7,300.0 L160.7,294.5 L162.0,286.9 L162.6,283.0 L163.9,281.8 L164.5,281.0 L166.0,276.0 L169.6,266.3 L170.6,269.0 L171.5,281.8 L172.8,294.5 L173.8,300.0 L176.3,325.5 L178.2,344.6 L179.2,358.6 L181.3,376.0 L182.9,391.8 L184.5,405.0 L186.1,414.0 L187.9,425.7 L191.4,436.2 L197.2,441.0" fill="none" stroke="#ff9d3c" stroke-width="1.45" stroke-linejoin="round"/>
<path d="M96.0,441.0 L98.0,440.5 L105.9,438.4 L111.2,435.4 L113.4,434.3 L119.7,433.2 L125.1,431.1 L130.4,430.1 L133.4,431.3 L140.2,422.8 L145.3,416.0 L148.6,405.8 L151.2,389.0 L153.7,372.0 L156.3,355.0 L159.1,344.6 L161.0,331.8 L163.6,316.6 L165.8,310.0 L166.8,300.0 L168.2,282.0 L170.2,265.2 L171.3,262.6 L172.4,260.2 L173.2,258.4 L174.1,257.9 L174.9,260.2 L175.6,265.6 L176.3,270.9 L177.3,281.0 L178.5,288.1 L179.8,288.8 L180.4,295.8 L181.7,310.0 L183.3,325.5 L185.2,344.6 L186.5,358.6 L188.7,376.0 L190.3,391.8 L191.4,400.0 L193.7,414.0 L196.1,425.7 L200.7,436.2 L207.7,441.0" fill="none" stroke="#22c6f4" stroke-width="1.45" stroke-linejoin="round" mask="url(#mNotR)"/>
<path d="M96.0,441.0 L98.0,440.5 L105.9,438.4 L111.2,435.4 L113.4,434.3 L119.7,433.2 L125.1,431.1 L130.4,430.1 L133.4,431.3 L140.2,422.8 L145.3,416.0 L148.6,405.8 L151.2,389.0 L153.7,372.0 L156.3,355.0 L159.1,344.6 L161.0,331.8 L163.6,316.6 L165.8,310.0 L166.8,300.0 L168.2,282.0 L170.2,265.2 L171.3,262.6 L172.4,260.2 L173.2,258.4 L174.1,257.9 L174.9,260.2 L175.6,265.6 L176.3,270.9 L177.3,281.0 L178.5,288.1 L179.8,288.8 L180.4,295.8 L181.7,310.0 L183.3,325.5 L185.2,344.6 L186.5,358.6 L188.7,376.0 L190.3,391.8 L191.4,400.0 L193.7,414.0 L196.1,425.7 L200.7,436.2 L207.7,441.0" fill="none" stroke="#6ea99a" stroke-width="1.45" stroke-linejoin="round" clip-path="url(#cR)"/>
<line x1="64.50" y1="236.90" x2="272.60" y2="236.90" stroke="#7a7a7a" stroke-width="1.0"/>
<line x1="272.60" y1="236.90" x2="272.60" y2="441.20" stroke="#7a7a7a" stroke-width="1.0"/>
<line x1="64.50" y1="236.50" x2="64.50" y2="441.50" stroke="#444" stroke-width="1.2"/>
<line x1="64.00" y1="441.00" x2="272.60" y2="441.00" stroke="#444" stroke-width="1.2"/>
<line x1="60.20" y1="440.80" x2="64.50" y2="440.80" stroke="#333" stroke-width="1.5"/>
<text x="53.00" y="443.50" font-size="7.7" text-anchor="end" fill="#383838">0</text>
<line x1="62.00" y1="431.07" x2="64.50" y2="431.07" stroke="#444" stroke-width="1.0"/>
<line x1="62.00" y1="421.35" x2="64.50" y2="421.35" stroke="#444" stroke-width="1.0"/>
<line x1="62.00" y1="411.62" x2="64.50" y2="411.62" stroke="#444" stroke-width="1.0"/>
<line x1="60.20" y1="401.90" x2="64.50" y2="401.90" stroke="#333" stroke-width="1.5"/>
<text x="53.00" y="404.60" font-size="7.7" text-anchor="end" fill="#383838">20</text>
<line x1="62.00" y1="392.18" x2="64.50" y2="392.18" stroke="#444" stroke-width="1.0"/>
<line x1="62.00" y1="382.45" x2="64.50" y2="382.45" stroke="#444" stroke-width="1.0"/>
<line x1="62.00" y1="372.73" x2="64.50" y2="372.73" stroke="#444" stroke-width="1.0"/>
<line x1="60.20" y1="363.00" x2="64.50" y2="363.00" stroke="#333" stroke-width="1.5"/>
<text x="53.00" y="365.70" font-size="7.7" text-anchor="end" fill="#383838">40</text>
<line x1="62.00" y1="353.27" x2="64.50" y2="353.27" stroke="#444" stroke-width="1.0"/>
<line x1="62.00" y1="343.55" x2="64.50" y2="343.55" stroke="#444" stroke-width="1.0"/>
<line x1="62.00" y1="333.82" x2="64.50" y2="333.82" stroke="#444" stroke-width="1.0"/>
<line x1="60.20" y1="324.10" x2="64.50" y2="324.10" stroke="#333" stroke-width="1.5"/>
<text x="53.00" y="326.80" font-size="7.7" text-anchor="end" fill="#383838">60</text>
<line x1="62.00" y1="314.38" x2="64.50" y2="314.38" stroke="#444" stroke-width="1.0"/>
<line x1="62.00" y1="304.65" x2="64.50" y2="304.65" stroke="#444" stroke-width="1.0"/>
<line x1="62.00" y1="294.93" x2="64.50" y2="294.93" stroke="#444" stroke-width="1.0"/>
<line x1="60.20" y1="285.20" x2="64.50" y2="285.20" stroke="#333" stroke-width="1.5"/>
<text x="53.00" y="287.90" font-size="7.7" text-anchor="end" fill="#383838">80</text>
<line x1="62.00" y1="275.48" x2="64.50" y2="275.48" stroke="#444" stroke-width="1.0"/>
<line x1="62.00" y1="265.75" x2="64.50" y2="265.75" stroke="#444" stroke-width="1.0"/>
<line x1="62.00" y1="256.02" x2="64.50" y2="256.02" stroke="#444" stroke-width="1.0"/>
<line x1="60.20" y1="246.30" x2="64.50" y2="246.30" stroke="#333" stroke-width="1.5"/>
<text x="53.00" y="249.00" font-size="7.7" text-anchor="end" fill="#383838">100</text>
<line x1="64.80" y1="441.00" x2="64.80" y2="445.60" stroke="#222" stroke-width="1.4"/>
<line x1="72.67" y1="441.00" x2="72.67" y2="443.60" stroke="#444" stroke-width="0.9"/>
<line x1="77.28" y1="441.00" x2="77.28" y2="443.60" stroke="#444" stroke-width="0.9"/>
<line x1="80.54" y1="441.00" x2="80.54" y2="443.60" stroke="#444" stroke-width="0.9"/>
<line x1="83.08" y1="441.00" x2="83.08" y2="443.60" stroke="#444" stroke-width="0.9"/>
<line x1="85.15" y1="441.00" x2="85.15" y2="443.60" stroke="#444" stroke-width="0.9"/>
<line x1="86.90" y1="441.00" x2="86.90" y2="443.60" stroke="#444" stroke-width="0.9"/>
<line x1="88.42" y1="441.00" x2="88.42" y2="443.60" stroke="#444" stroke-width="0.9"/>
<line x1="89.75" y1="441.00" x2="89.75" y2="443.60" stroke="#444" stroke-width="0.9"/>
<text x="67.10" y="457.9" font-size="7.6" fill="#333">10<tspan dx="0" dy="-2.6" font-size="4.8" fill="#444">0</tspan></text>
<line x1="90.95" y1="441.00" x2="90.95" y2="445.60" stroke="#222" stroke-width="1.4"/>
<line x1="98.82" y1="441.00" x2="98.82" y2="443.60" stroke="#444" stroke-width="0.9"/>
<line x1="103.43" y1="441.00" x2="103.43" y2="443.60" stroke="#444" stroke-width="0.9"/>
<line x1="106.69" y1="441.00" x2="106.69" y2="443.60" stroke="#444" stroke-width="0.9"/>
<line x1="109.23" y1="441.00" x2="109.23" y2="443.60" stroke="#444" stroke-width="0.9"/>
<line x1="111.30" y1="441.00" x2="111.30" y2="443.60" stroke="#444" stroke-width="0.9"/>
<line x1="113.05" y1="441.00" x2="113.05" y2="443.60" stroke="#444" stroke-width="0.9"/>
<line x1="114.57" y1="441.00" x2="114.57" y2="443.60" stroke="#444" stroke-width="0.9"/>
<line x1="115.90" y1="441.00" x2="115.90" y2="443.60" stroke="#444" stroke-width="0.9"/>
<text x="93.25" y="457.9" font-size="7.6" fill="#333">10<tspan dx="0" dy="-2.6" font-size="4.8" fill="#444">1</tspan></text>
<line x1="117.10" y1="441.00" x2="117.10" y2="445.60" stroke="#222" stroke-width="1.4"/>
<line x1="124.97" y1="441.00" x2="124.97" y2="443.60" stroke="#444" stroke-width="0.9"/>
<line x1="129.58" y1="441.00" x2="129.58" y2="443.60" stroke="#444" stroke-width="0.9"/>
<line x1="132.84" y1="441.00" x2="132.84" y2="443.60" stroke="#444" stroke-width="0.9"/>
<line x1="135.38" y1="441.00" x2="135.38" y2="443.60" stroke="#444" stroke-width="0.9"/>
<line x1="137.45" y1="441.00" x2="137.45" y2="443.60" stroke="#444" stroke-width="0.9"/>
<line x1="139.20" y1="441.00" x2="139.20" y2="443.60" stroke="#444" stroke-width="0.9"/>
<line x1="140.72" y1="441.00" x2="140.72" y2="443.60" stroke="#444" stroke-width="0.9"/>
<line x1="142.05" y1="441.00" x2="142.05" y2="443.60" stroke="#444" stroke-width="0.9"/>
<text x="119.40" y="457.9" font-size="7.6" fill="#333">10<tspan dx="0" dy="-2.6" font-size="4.8" fill="#444">2</tspan></text>
<line x1="143.25" y1="441.00" x2="143.25" y2="445.60" stroke="#222" stroke-width="1.4"/>
<line x1="151.12" y1="441.00" x2="151.12" y2="443.60" stroke="#444" stroke-width="0.9"/>
<line x1="155.73" y1="441.00" x2="155.73" y2="443.60" stroke="#444" stroke-width="0.9"/>
<line x1="158.99" y1="441.00" x2="158.99" y2="443.60" stroke="#444" stroke-width="0.9"/>
<line x1="161.53" y1="441.00" x2="161.53" y2="443.60" stroke="#444" stroke-width="0.9"/>
<line x1="163.60" y1="441.00" x2="163.60" y2="443.60" stroke="#444" stroke-width="0.9"/>
<line x1="165.35" y1="441.00" x2="165.35" y2="443.60" stroke="#444" stroke-width="0.9"/>
<line x1="166.87" y1="441.00" x2="166.87" y2="443.60" stroke="#444" stroke-width="0.9"/>
<line x1="168.20" y1="441.00" x2="168.20" y2="443.60" stroke="#444" stroke-width="0.9"/>
<text x="145.55" y="457.9" font-size="7.6" fill="#333">10<tspan dx="0" dy="-2.6" font-size="4.8" fill="#444">3</tspan></text>
<line x1="169.40" y1="441.00" x2="169.40" y2="445.60" stroke="#222" stroke-width="1.4"/>
<line x1="177.27" y1="441.00" x2="177.27" y2="443.60" stroke="#444" stroke-width="0.9"/>
<line x1="181.88" y1="441.00" x2="181.88" y2="443.60" stroke="#444" stroke-width="0.9"/>
<line x1="185.14" y1="441.00" x2="185.14" y2="443.60" stroke="#444" stroke-width="0.9"/>
<line x1="187.68" y1="441.00" x2="187.68" y2="443.60" stroke="#444" stroke-width="0.9"/>
<line x1="189.75" y1="441.00" x2="189.75" y2="443.60" stroke="#444" stroke-width="0.9"/>
<line x1="191.50" y1="441.00" x2="191.50" y2="443.60" stroke="#444" stroke-width="0.9"/>
<line x1="193.02" y1="441.00" x2="193.02" y2="443.60" stroke="#444" stroke-width="0.9"/>
<line x1="194.35" y1="441.00" x2="194.35" y2="443.60" stroke="#444" stroke-width="0.9"/>
<text x="171.70" y="457.9" font-size="7.6" fill="#333">10<tspan dx="0" dy="-2.6" font-size="4.8" fill="#444">4</tspan></text>
<line x1="195.55" y1="441.00" x2="195.55" y2="445.60" stroke="#222" stroke-width="1.4"/>
<line x1="203.42" y1="441.00" x2="203.42" y2="443.60" stroke="#444" stroke-width="0.9"/>
<line x1="208.03" y1="441.00" x2="208.03" y2="443.60" stroke="#444" stroke-width="0.9"/>
<line x1="211.29" y1="441.00" x2="211.29" y2="443.60" stroke="#444" stroke-width="0.9"/>
<line x1="213.83" y1="441.00" x2="213.83" y2="443.60" stroke="#444" stroke-width="0.9"/>
<line x1="215.90" y1="441.00" x2="215.90" y2="443.60" stroke="#444" stroke-width="0.9"/>
<line x1="217.65" y1="441.00" x2="217.65" y2="443.60" stroke="#444" stroke-width="0.9"/>
<line x1="219.17" y1="441.00" x2="219.17" y2="443.60" stroke="#444" stroke-width="0.9"/>
<line x1="220.50" y1="441.00" x2="220.50" y2="443.60" stroke="#444" stroke-width="0.9"/>
<text x="197.85" y="457.9" font-size="7.6" fill="#333">10<tspan dx="0" dy="-2.6" font-size="4.8" fill="#444">5</tspan></text>
<line x1="221.70" y1="441.00" x2="221.70" y2="445.60" stroke="#222" stroke-width="1.4"/>
<line x1="229.57" y1="441.00" x2="229.57" y2="443.60" stroke="#444" stroke-width="0.9"/>
<line x1="234.18" y1="441.00" x2="234.18" y2="443.60" stroke="#444" stroke-width="0.9"/>
<line x1="237.44" y1="441.00" x2="237.44" y2="443.60" stroke="#444" stroke-width="0.9"/>
<line x1="239.98" y1="441.00" x2="239.98" y2="443.60" stroke="#444" stroke-width="0.9"/>
<line x1="242.05" y1="441.00" x2="242.05" y2="443.60" stroke="#444" stroke-width="0.9"/>
<line x1="243.80" y1="441.00" x2="243.80" y2="443.60" stroke="#444" stroke-width="0.9"/>
<line x1="245.32" y1="441.00" x2="245.32" y2="443.60" stroke="#444" stroke-width="0.9"/>
<line x1="246.65" y1="441.00" x2="246.65" y2="443.60" stroke="#444" stroke-width="0.9"/>
<text x="224.00" y="457.9" font-size="7.6" fill="#333">10<tspan dx="0" dy="-2.6" font-size="4.8" fill="#444">6</tspan></text>
<line x1="247.85" y1="441.00" x2="247.85" y2="445.60" stroke="#222" stroke-width="1.4"/>
<line x1="255.72" y1="441.00" x2="255.72" y2="443.60" stroke="#444" stroke-width="0.9"/>
<line x1="260.33" y1="441.00" x2="260.33" y2="443.60" stroke="#444" stroke-width="0.9"/>
<line x1="263.59" y1="441.00" x2="263.59" y2="443.60" stroke="#444" stroke-width="0.9"/>
<line x1="266.13" y1="441.00" x2="266.13" y2="443.60" stroke="#444" stroke-width="0.9"/>
<line x1="268.20" y1="441.00" x2="268.20" y2="443.60" stroke="#444" stroke-width="0.9"/>
<line x1="269.95" y1="441.00" x2="269.95" y2="443.60" stroke="#444" stroke-width="0.9"/>
<line x1="271.47" y1="441.00" x2="271.47" y2="443.60" stroke="#444" stroke-width="0.9"/>
<text x="250.15" y="457.9" font-size="7.6" fill="#333">10<tspan dx="0" dy="-2.6" font-size="4.8" fill="#444">7</tspan></text>
<text x="166.80" y="467.80" font-size="7.9" font-weight="bold" text-anchor="middle" fill="#222">FI</text>
<text x="37.50" y="335.50" font-size="8.3" font-weight="bold" text-anchor="middle" fill="#222" transform="rotate(-90 37.50 335.50)">Counts</text>
<line x1="65.00" y1="385.00" x2="132.00" y2="385.00" stroke="#2e2e2e" stroke-width="1.5"/>
<line x1="132.00" y1="381.00" x2="132.00" y2="388.80" stroke="#2e2e2e" stroke-width="1.5"/>
<line x1="132.00" y1="395.00" x2="272.00" y2="395.00" stroke="#2e2e2e" stroke-width="1.5"/>
<line x1="132.00" y1="391.20" x2="132.00" y2="398.90" stroke="#2e2e2e" stroke-width="1.5"/>
<line x1="272.00" y1="391.40" x2="272.00" y2="398.60" stroke="#2e2e2e" stroke-width="1.5"/>
<text x="67.90" y="381.70" font-size="7.7" text-anchor="start" fill="#333" textLength="28.2" lengthAdjust="spacingAndGlyphs">FITC-A -</text>
<text x="266.90" y="391.80" font-size="7.7" text-anchor="end" fill="#333" textLength="28.9" lengthAdjust="spacingAndGlyphs">FITC-A +</text>
<rect x="280.00" y="269.80" width="5.3" height="5.0" fill="#ffb0b5" stroke="#ff5a64" stroke-width="1"/>
<text x="290.80" y="275.20" font-size="8.1" font-weight="bold" text-anchor="start" fill="#1e1e1e" textLength="44.6" lengthAdjust="spacingAndGlyphs">Ax4 Vehicle</text>
<rect x="280.00" y="288.00" width="5.3" height="5.0" fill="#a6ebfc" stroke="#62d6f8" stroke-width="1"/>
<text x="290.80" y="293.40" font-size="8.1" font-weight="bold" text-anchor="start" fill="#1e1e1e" textLength="48.8" lengthAdjust="spacingAndGlyphs">Ax4 PCB 138</text>
<rect x="280.00" y="306.20" width="5.3" height="5.0" fill="#ffd1a6" stroke="#ffa24e" stroke-width="1"/>
<text x="290.80" y="311.60" font-size="8.1" font-weight="bold" text-anchor="start" fill="#1e1e1e" textLength="48.4" lengthAdjust="spacingAndGlyphs">Ax4 PCB 153</text>
</svg>
</body></html>
